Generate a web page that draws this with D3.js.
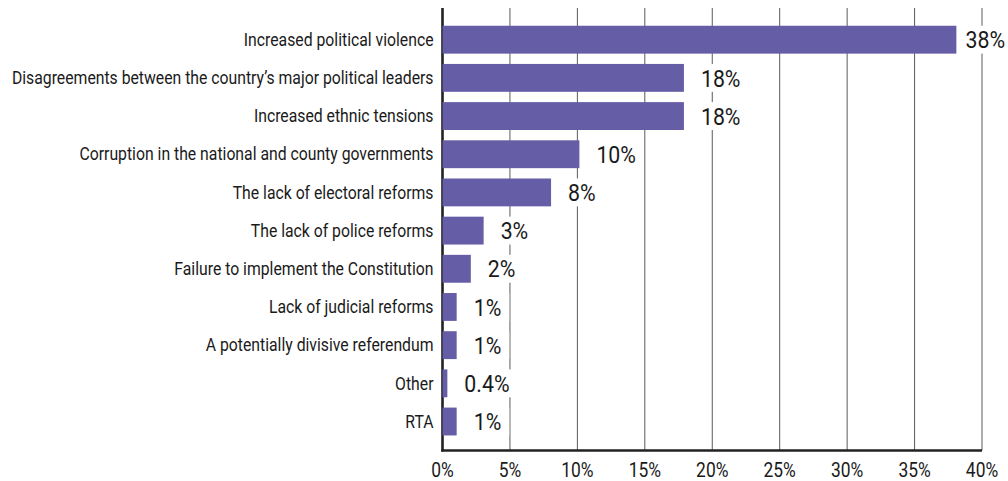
<!DOCTYPE html>
<html><head><meta charset="utf-8">
<script src="https://cdn.jsdelivr.net/npm/d3@7"></script>
<style>
html,body{margin:0;padding:0;background:#fff;}
svg{display:block;}
text{font-family:Roboto,"Noto Sans",sans-serif;fill:#1a1a1a;}
</style></head>
<body>
<svg id="chart" width="1008" height="481"></svg>
<script>
const categories = [
  "Increased political violence",
  "Disagreements between the country\u2019s major political leaders",
  "Increased ethnic tensions",
  "Corruption in the national and county governments",
  "The lack of electoral reforms",
  "The lack of police reforms",
  "Failure to implement the Constitution",
  "Lack of judicial reforms",
  "A potentially divisive referendum",
  "Other",
  "RTA"
];
const values = [38.1, 17.9, 17.9, 10.15, 8.05, 3.05, 2.1, 1.05, 1.05, 0.36, 1.05];
const valueLabels = ["38%", "18%", "18%", "10%", "8%", "3%", "2%", "1%", "1%", "0.4%", "1%"];
const tickValues = [0, 5, 10, 15, 20, 25, 30, 35, 40];
const tickLabels = ["0%", "5%", "10%", "15%", "20%", "25%", "30%", "35%", "40%"];

const W = 1008, H = 481;
const SX = 0.87; // horizontal condensing to mimic a condensed face
const SXC = 0.877;
const svg = d3.select("#chart");

const x = d3.scaleLinear().domain([0, 40]).range([442.5, 982]);
const y = d3.scaleBand().domain(categories).range([20.6, 440.6]).paddingInner(0.27).paddingOuter(0.135);

const plotTop = 8, plotBottom = 450.5;

// gridlines
svg.append("g").selectAll("line").data(tickValues.slice(1)).join("line")
  .attr("x1", d => x(d)).attr("x2", d => x(d))
  .attr("y1", plotTop).attr("y2", plotBottom)
  .attr("stroke", "#5a5a5a").attr("stroke-width", 1);

// axis lines
svg.append("line").attr("x1", x(0)).attr("x2", x(0)).attr("y1", plotTop).attr("y2", plotBottom + 1)
  .attr("stroke", "#222").attr("stroke-width", 2.6);
svg.append("line").attr("x1", x(0) - 1.3).attr("x2", x(40)).attr("y1", plotBottom).attr("y2", plotBottom)
  .attr("stroke", "#222").attr("stroke-width", 2.6);

// bars
svg.append("g").selectAll("rect").data(categories).join("rect")
  .attr("x", x(0)).attr("y", d => y(d))
  .attr("width", (d, i) => x(values[i]) - x(0))
  .attr("height", y.bandwidth())
  .attr("fill", "#655da6");

// category labels
const cat = svg.append("g").selectAll("g").data(categories).join("g")
  .attr("transform", d => `translate(433.5,${y(d) + y.bandwidth() / 2 + 6.2})`);
cat.append("text").attr("text-anchor", "end").attr("font-size", 18)
  .attr("transform", `scale(${SXC},1)`).text(d => d);

// value labels with white boxes
const vfs = 24.5;
const vg = svg.append("g");
categories.forEach((c, i) => {
  const g = vg.append("g");
  const rect = g.append("rect").attr("fill", "#fff");
  const t = g.append("text").attr("font-size", vfs).attr("transform", `scale(${SX},1)`).text(valueLabels[i]);
  const w = t.node().getComputedTextLength() * SX;
  let tx = x(values[i]) + 17;
  if (tx + w > W - 3) tx = W - 3 - w;
  const cy = y(c) + y.bandwidth() / 2;
  g.attr("transform", `translate(${tx},${cy + vfs * 0.355})`);
  rect.attr("x", -6).attr("y", y(c) - (cy + vfs * 0.355)).attr("width", w + 14).attr("height", y.bandwidth());
});

// tick labels
const tg = svg.append("g").selectAll("g").data(tickValues).join("g")
  .attr("transform", d => `translate(${x(d)},477)`);
tg.append("text").attr("text-anchor", "middle").attr("font-size", 20)
  .attr("transform", `scale(${SX},1)`).text((d, i) => tickLabels[i]);
</script>
</body></html>
